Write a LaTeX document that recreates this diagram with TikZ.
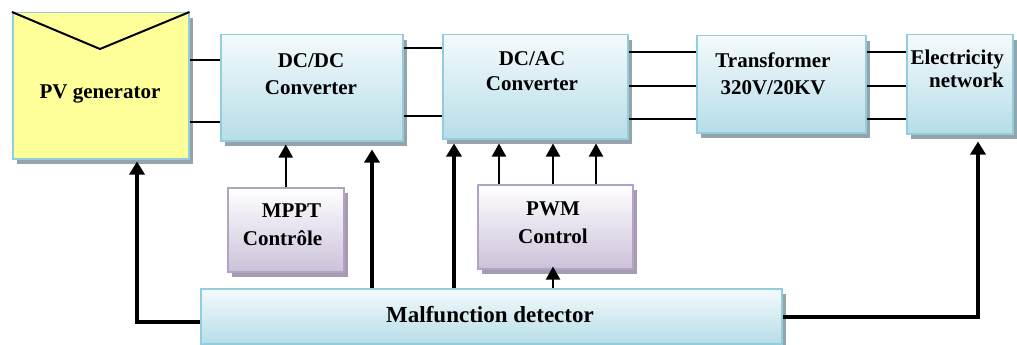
\documentclass[tikz,border=0pt]{standalone}
\usepackage{fontspec}
\setmainfont{Liberation Serif}
\usetikzlibrary{arrows.meta,shadows}

\definecolor{edgeblue}{HTML}{93CDDD}
\definecolor{blueTop}{HTML}{F4FAFC}
\definecolor{blueBot}{HTML}{B6DDE8}
\definecolor{shadowgray}{HTML}{95A3AA}
\definecolor{edgepurple}{HTML}{B3A2C7}
\definecolor{purpleBot}{HTML}{CCC1DA}
\definecolor{shadowpurple}{HTML}{A59DAF}
\definecolor{pvyellow}{HTML}{FFFF99}

\begin{document}
\begin{tikzpicture}[x=1pt,y=-1pt,
  bluebox/.style={draw=edgeblue, line width=1.5pt, anchor=north west, inner sep=0pt,
    top color=blueTop, bottom color=blueBot,
    drop shadow={shadow xshift=4pt, shadow yshift=-5pt, fill=shadowgray, opacity=1}},
  purplebox/.style={draw=edgepurple, line width=1.5pt, anchor=north west, inner sep=0pt,
    top color=white, bottom color=purpleBot,
    drop shadow={shadow xshift=4pt, shadow yshift=-5pt, fill=shadowpurple, opacity=1}},
  pvbox/.style={draw=edgeblue, line width=1.5pt, anchor=north west, inner sep=0pt,
    fill=pvyellow,
    drop shadow={shadow xshift=4pt, shadow yshift=-5pt, fill=shadowgray, opacity=1}},
  txt/.style={inner sep=0pt, anchor=base, font=\bfseries\fontsize{21}{25}\selectfont},
  wire/.style={line width=2.6pt},
  thinarrow/.style={line width=2pt, -{Triangle[length=13pt,width=14pt]}},
  fatarrow/.style={line width=3.4pt, -{Triangle[length=13pt,width=15pt]}}
]
\useasboundingbox (0,0) rectangle (1017,345);

% ---- blocks ----
\node[pvbox, minimum width=176pt, minimum height=146pt] (pv) at (12,12) {};
\draw[line width=2pt] (pv.north west) -- (100,49) -- (pv.north east);
\node[bluebox, minimum width=182pt, minimum height=106pt] (dcdc) at (220,34) {};
\node[bluebox, minimum width=185pt, minimum height=104pt] (dcac) at (442,34) {};
\node[bluebox, minimum width=169pt, minimum height=97pt] (trans) at (696,35) {};
\node[bluebox, minimum width=106pt, minimum height=99pt] (elec) at (906,34) {};
\node[purplebox, minimum width=116pt, minimum height=84pt] (mppt) at (227,187) {};
\node[purplebox, minimum width=155pt, minimum height=84pt] (pwm) at (477,184) {};
\node[bluebox, minimum width=581pt, minimum height=55pt] (mal) at (200,288) {};

% ---- labels ----
\node[txt] (pvT) at (100,99) {PV generator};
\node[txt] (dcdcA) at (311,67) {DC/DC};
\node[txt] (dcdcB) at (311,95) {Converter};
\node[txt] (dcacA) at (532,66) {DC/AC};
\node[txt] (dcacB) at (532,90) {Converter};
\node[txt] (transA) at (773,67) {Transformer};
\node[txt] (transB) at (773,94) {320V/20KV};
\node[txt, anchor=base east] (elecA) at (1004,64) {Electricity};
\node[txt, anchor=base east] (elecB) at (1004,88) {network};
\node[txt] (mpptA) at (291.5,217) {MPPT};
\node[txt] (mpptB) at (282.5,245) {Contrôle};
\node[txt] (pwmA) at (553,215) {PWM};
\node[txt] (pwmB) at (553,243) {Control};
\node[txt, font=\bfseries\fontsize{23}{27}\selectfont] (malT) at (490,322) {Malfunction detector};

% ---- reference levels ----
\coordinate (h48) at (0,48);
\coordinate (h52) at (0,52);
\coordinate (h60) at (0,60);
\coordinate (h86) at (0,86);
\coordinate (h116) at (0,116);
\coordinate (h119) at (0,119);
\coordinate (h122) at (0,122);
\coordinate (h317) at (0,317);
\coordinate (h322) at (0,322);
\coordinate (v137) at (137,0);
\coordinate (v372) at (372,0);
\coordinate (v454) at (454,0);
\coordinate (v499) at (499,0);
\coordinate (v553) at (553,0);
\coordinate (v596) at (596,0);
\coordinate (v978) at (978,0);

% ---- power path ----
\draw[wire] (pv.east |- h60) -- (dcdc.west |- h60);
\draw[wire] (pv.east |- h122) -- (dcdc.west |- h122);
\draw[wire] (dcdc.east |- h48) -- (dcac.west |- h48);
\draw[wire] (dcdc.east |- h116) -- (dcac.west |- h116);
\foreach \h in {h52,h86,h119}{
  \draw[wire] (dcac.east |- \h) -- (trans.west |- \h);
  \draw[wire] (trans.east |- \h) -- (elec.west |- \h);
}

% ---- control signals ----
\draw[thinarrow, shorten >=3pt] (mppt.north) -- (mppt.north |- dcdc.south);
\draw[thinarrow, shorten >=4pt] (pwm.north -| v499) -- (v499 |- dcac.south);
\draw[thinarrow, shorten >=4pt] (pwm.north -| v553) -- (v553 |- dcac.south);
\draw[thinarrow, shorten >=4pt] (pwm.north -| v596) -- (v596 |- dcac.south);
\draw[thinarrow, shorten >=-3pt] (mal.north -| v553) -- (v553 |- pwm.south);

% ---- fault feedback ----
\draw[fatarrow, shorten >=8pt] (mal.north -| v372) -- (v372 |- dcdc.south);
\draw[fatarrow, shorten >=4pt] (mal.north -| v454) -- (v454 |- dcac.south);
\draw[fatarrow, shorten >=2pt] (mal.west |- h322) -| (v137 |- pv.south);
\draw[fatarrow, shorten >=7pt] (mal.east |- h317) -| (v978 |- elec.south);
\end{tikzpicture}
\end{document}
